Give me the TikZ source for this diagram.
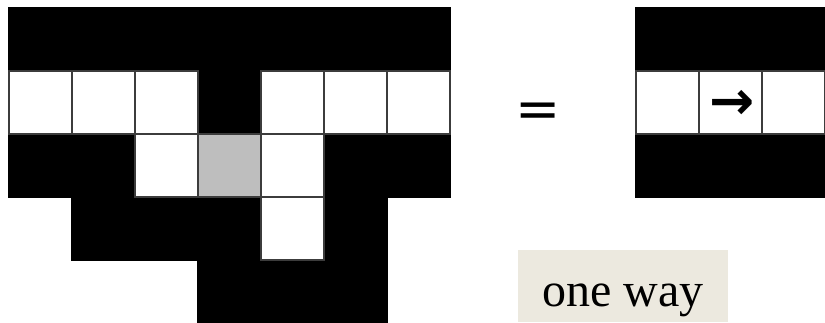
\documentclass[tikz,border=0pt]{standalone}
\usepackage{fontspec}
\usetikzlibrary{positioning}
\newfontfamily\wayfont{Liberation Serif}
\newfontfamily\glyphfont{DejaVu Sans}
\definecolor{cCell}{HTML}{BEBEBE}
\definecolor{cEdge}{HTML}{3C3C3C}
\definecolor{cNote}{HTML}{ECE9DF}
\tikzset{
  cell/.style={rectangle, minimum size=63pt, inner sep=0pt, line width=1.4pt},
  blackcell/.style={cell, fill=black, draw=black},
  whitecell/.style={cell, fill=white, draw=cEdge},
  graycell/.style={cell, fill=cCell, draw=cEdge},
  equalsign/.style={font=\glyphfont\fontsize{54}{60}\selectfont, inner sep=0pt},
  dirmark/.style={font=\glyphfont\bfseries\fontsize{54}{60}\selectfont, inner sep=0pt},
  notebox/.style={fill=cNote, minimum width=210pt, minimum height=72pt, inner sep=0pt,
    text height=44pt, text depth=4pt, font=\wayfont\fontsize{48}{54}\selectfont},
}

\begin{document}
\begin{tikzpicture}[x=1pt, y=1pt]
  \useasboundingbox (0,0) rectangle (825,322);

  % ----------------------------------------------------------------
  % Left maze: black walls first, open cells drawn on top
  % ----------------------------------------------------------------
  \foreach \r/\cols in {0/{0,...,6}, 1/{3}, 2/{0,1,5,6}, 3/{1,2,3,5}, 4/{3,4,5}}
    \foreach \c in \cols
      \node[blackcell] (L-\r-\c) at ({40.5+63*\c}, {282.5-63*\r}) {};

  \foreach \r/\cols in {1/{0,1,2,4,5,6}, 2/{2,4}, 3/{4}}
    \foreach \c in \cols
      \node[whitecell] (L-\r-\c) at ({40.5+63*\c}, {282.5-63*\r}) {};

  \node[graycell] (L-2-3) at (229.5, 156.5) {};

  % ----------------------------------------------------------------
  % Equals sign
  % ----------------------------------------------------------------
  \node[equalsign] (eq) at (538.5, 207) {=};

  % ----------------------------------------------------------------
  % Right pattern: corridor with direction mark
  % ----------------------------------------------------------------
  \foreach \r in {0,2}
    \foreach \c in {0,1,2}
      \node[blackcell] (R-\r-\c) at ({667.5+63*\c}, {282.5-63*\r}) {};

  \foreach \c in {0,1,2}
    \node[whitecell] (R-1-\c) at ({667.5+63*\c}, 219.5) {};

  \node[dirmark, xshift=2pt, yshift=-2pt] (dir) at (R-1-1) {→};

  % ----------------------------------------------------------------
  % Caption box
  % ----------------------------------------------------------------
  \node[notebox] (way) at (623, 36) {one way};

\end{tikzpicture}
\end{document}
